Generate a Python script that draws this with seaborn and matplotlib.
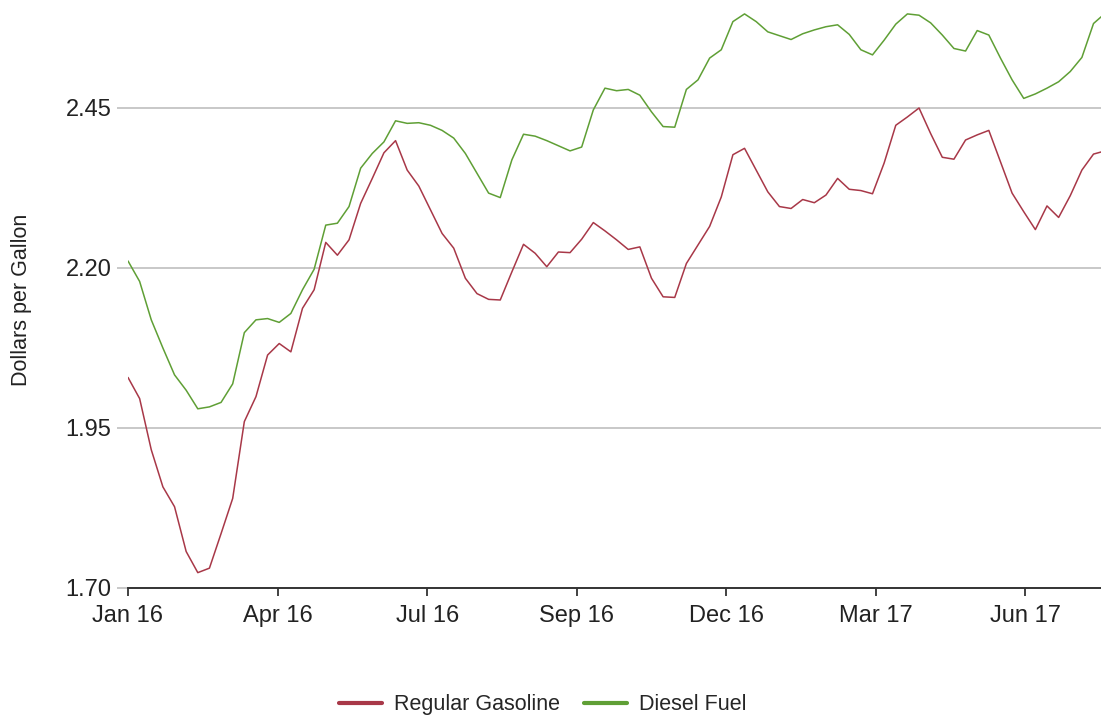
import matplotlib
matplotlib.use("Agg")
import matplotlib.pyplot as plt
import matplotlib.dates as mdates
import pandas as pd
import seaborn as sns

# weekly retail prices, dollars per gallon
weeks = pd.date_range("2016-01-04", periods=85, freq="7D")

gasoline = [
    2.029, 1.996, 1.916, 1.858, 1.827, 1.757, 1.724, 1.731, 1.785, 1.840,
    1.960, 1.999, 2.064, 2.082, 2.069, 2.137, 2.166, 2.240, 2.220, 2.244,
    2.301, 2.340, 2.380, 2.399, 2.353, 2.328, 2.291, 2.254, 2.231, 2.184,
    2.160, 2.151, 2.150, 2.194, 2.237, 2.223, 2.202, 2.225, 2.224, 2.245,
    2.271, 2.258, 2.244, 2.229, 2.233, 2.184, 2.155, 2.154, 2.207, 2.236,
    2.265, 2.311, 2.377, 2.387, 2.353, 2.319, 2.296, 2.293, 2.307, 2.302,
    2.314, 2.340, 2.323, 2.321, 2.316, 2.364, 2.423, 2.436, 2.450, 2.410,
    2.373, 2.370, 2.400, 2.408, 2.415, 2.366, 2.317, 2.288, 2.260, 2.297,
    2.279, 2.313, 2.353, 2.378, 2.383,
]

diesel = [
    2.211, 2.179, 2.119, 2.075, 2.033, 2.009, 1.980, 1.983, 1.990, 2.019,
    2.099, 2.119, 2.121, 2.115, 2.129, 2.166, 2.198, 2.267, 2.270, 2.296,
    2.356, 2.379, 2.397, 2.430, 2.426, 2.427, 2.423, 2.415, 2.403, 2.379,
    2.348, 2.317, 2.310, 2.369, 2.409, 2.406, 2.399, 2.391, 2.383, 2.389,
    2.447, 2.481, 2.477, 2.479, 2.470, 2.444, 2.421, 2.420, 2.479, 2.494,
    2.528, 2.541, 2.585, 2.597, 2.585, 2.569, 2.563, 2.557, 2.566, 2.572,
    2.577, 2.580, 2.565, 2.541, 2.533, 2.556, 2.581, 2.597, 2.595, 2.583,
    2.564, 2.543, 2.539, 2.571, 2.564, 2.528, 2.494, 2.465, 2.472, 2.481,
    2.491, 2.507, 2.529, 2.582, 2.598,
]

series_names = ["Regular Gasoline", "Diesel Fuel"]
colors = {"Regular Gasoline": "#a83848", "Diesel Fuel": "#5f9f35"}
y_ticks = [1.70, 1.95, 2.20, 2.45]

df = pd.concat([
    pd.DataFrame({"week": weeks, "price": gasoline, "series": series_names[0]}),
    pd.DataFrame({"week": weeks, "price": diesel, "series": series_names[1]}),
])

sns.set_style("white")
plt.rcParams["font.family"] = ["Liberation Sans", "DejaVu Sans"]

fig = plt.figure(figsize=(11.01, 7.17), dpi=100)
ax = fig.add_axes([128 / 1101, 129 / 717, 1 - 128 / 1101, 588 / 717])

sns.lineplot(data=df, x="week", y="price", hue="series", palette=colors,
             hue_order=series_names, linewidth=1.1, ax=ax)

ax.set_ylim(1.70, 1.70 + 588 / 640)
ax.set_xlim(weeks[0], weeks[0] + pd.Timedelta(days=585.5))
ax.set_yticks(y_ticks)
ax.set_yticklabels([f"{v:.2f}" for v in y_ticks])
ax.grid(axis="y", color="#c8c8c8", linewidth=1.4)
ax.set_axisbelow(True)

# ticks every 90 days, labelled month + year
tick_dates = [weeks[0] + pd.Timedelta(days=90 * k) for k in range(7)]
ax.set_xticks(tick_dates)
ax.xaxis.set_major_formatter(mdates.DateFormatter("%b %y"))

for side in ["top", "right", "left"]:
    ax.spines[side].set_visible(False)
ax.spines["bottom"].set_color("#333333")
ax.spines["bottom"].set_linewidth(1.4)

ax.tick_params(axis="x", bottom=True, length=6, width=1.3, color="#333333",
               labelsize=17, labelcolor="#222222", pad=6)
ax.tick_params(axis="y", left=True, length=8, width=1.4, color="#c8c8c8",
               labelsize=17, labelcolor="#222222", pad=4)

ax.set_xlabel("")
ax.set_ylabel("Dollars per Gallon", fontsize=15.5, color="#222222")
ax.yaxis.set_label_coords(-96 / 973, 0.49)

handles, labels = ax.get_legend_handles_labels()
ax.legend_.remove()
leg = fig.legend(handles, labels, loc="center", bbox_to_anchor=(0.493, 0.017),
                 ncol=2, frameon=False, fontsize=15.5, handlelength=2.0,
                 handletextpad=0.55, columnspacing=1.1)
for line in leg.get_lines():
    line.set_linewidth(3)

fig.savefig("out.png", dpi=100)
